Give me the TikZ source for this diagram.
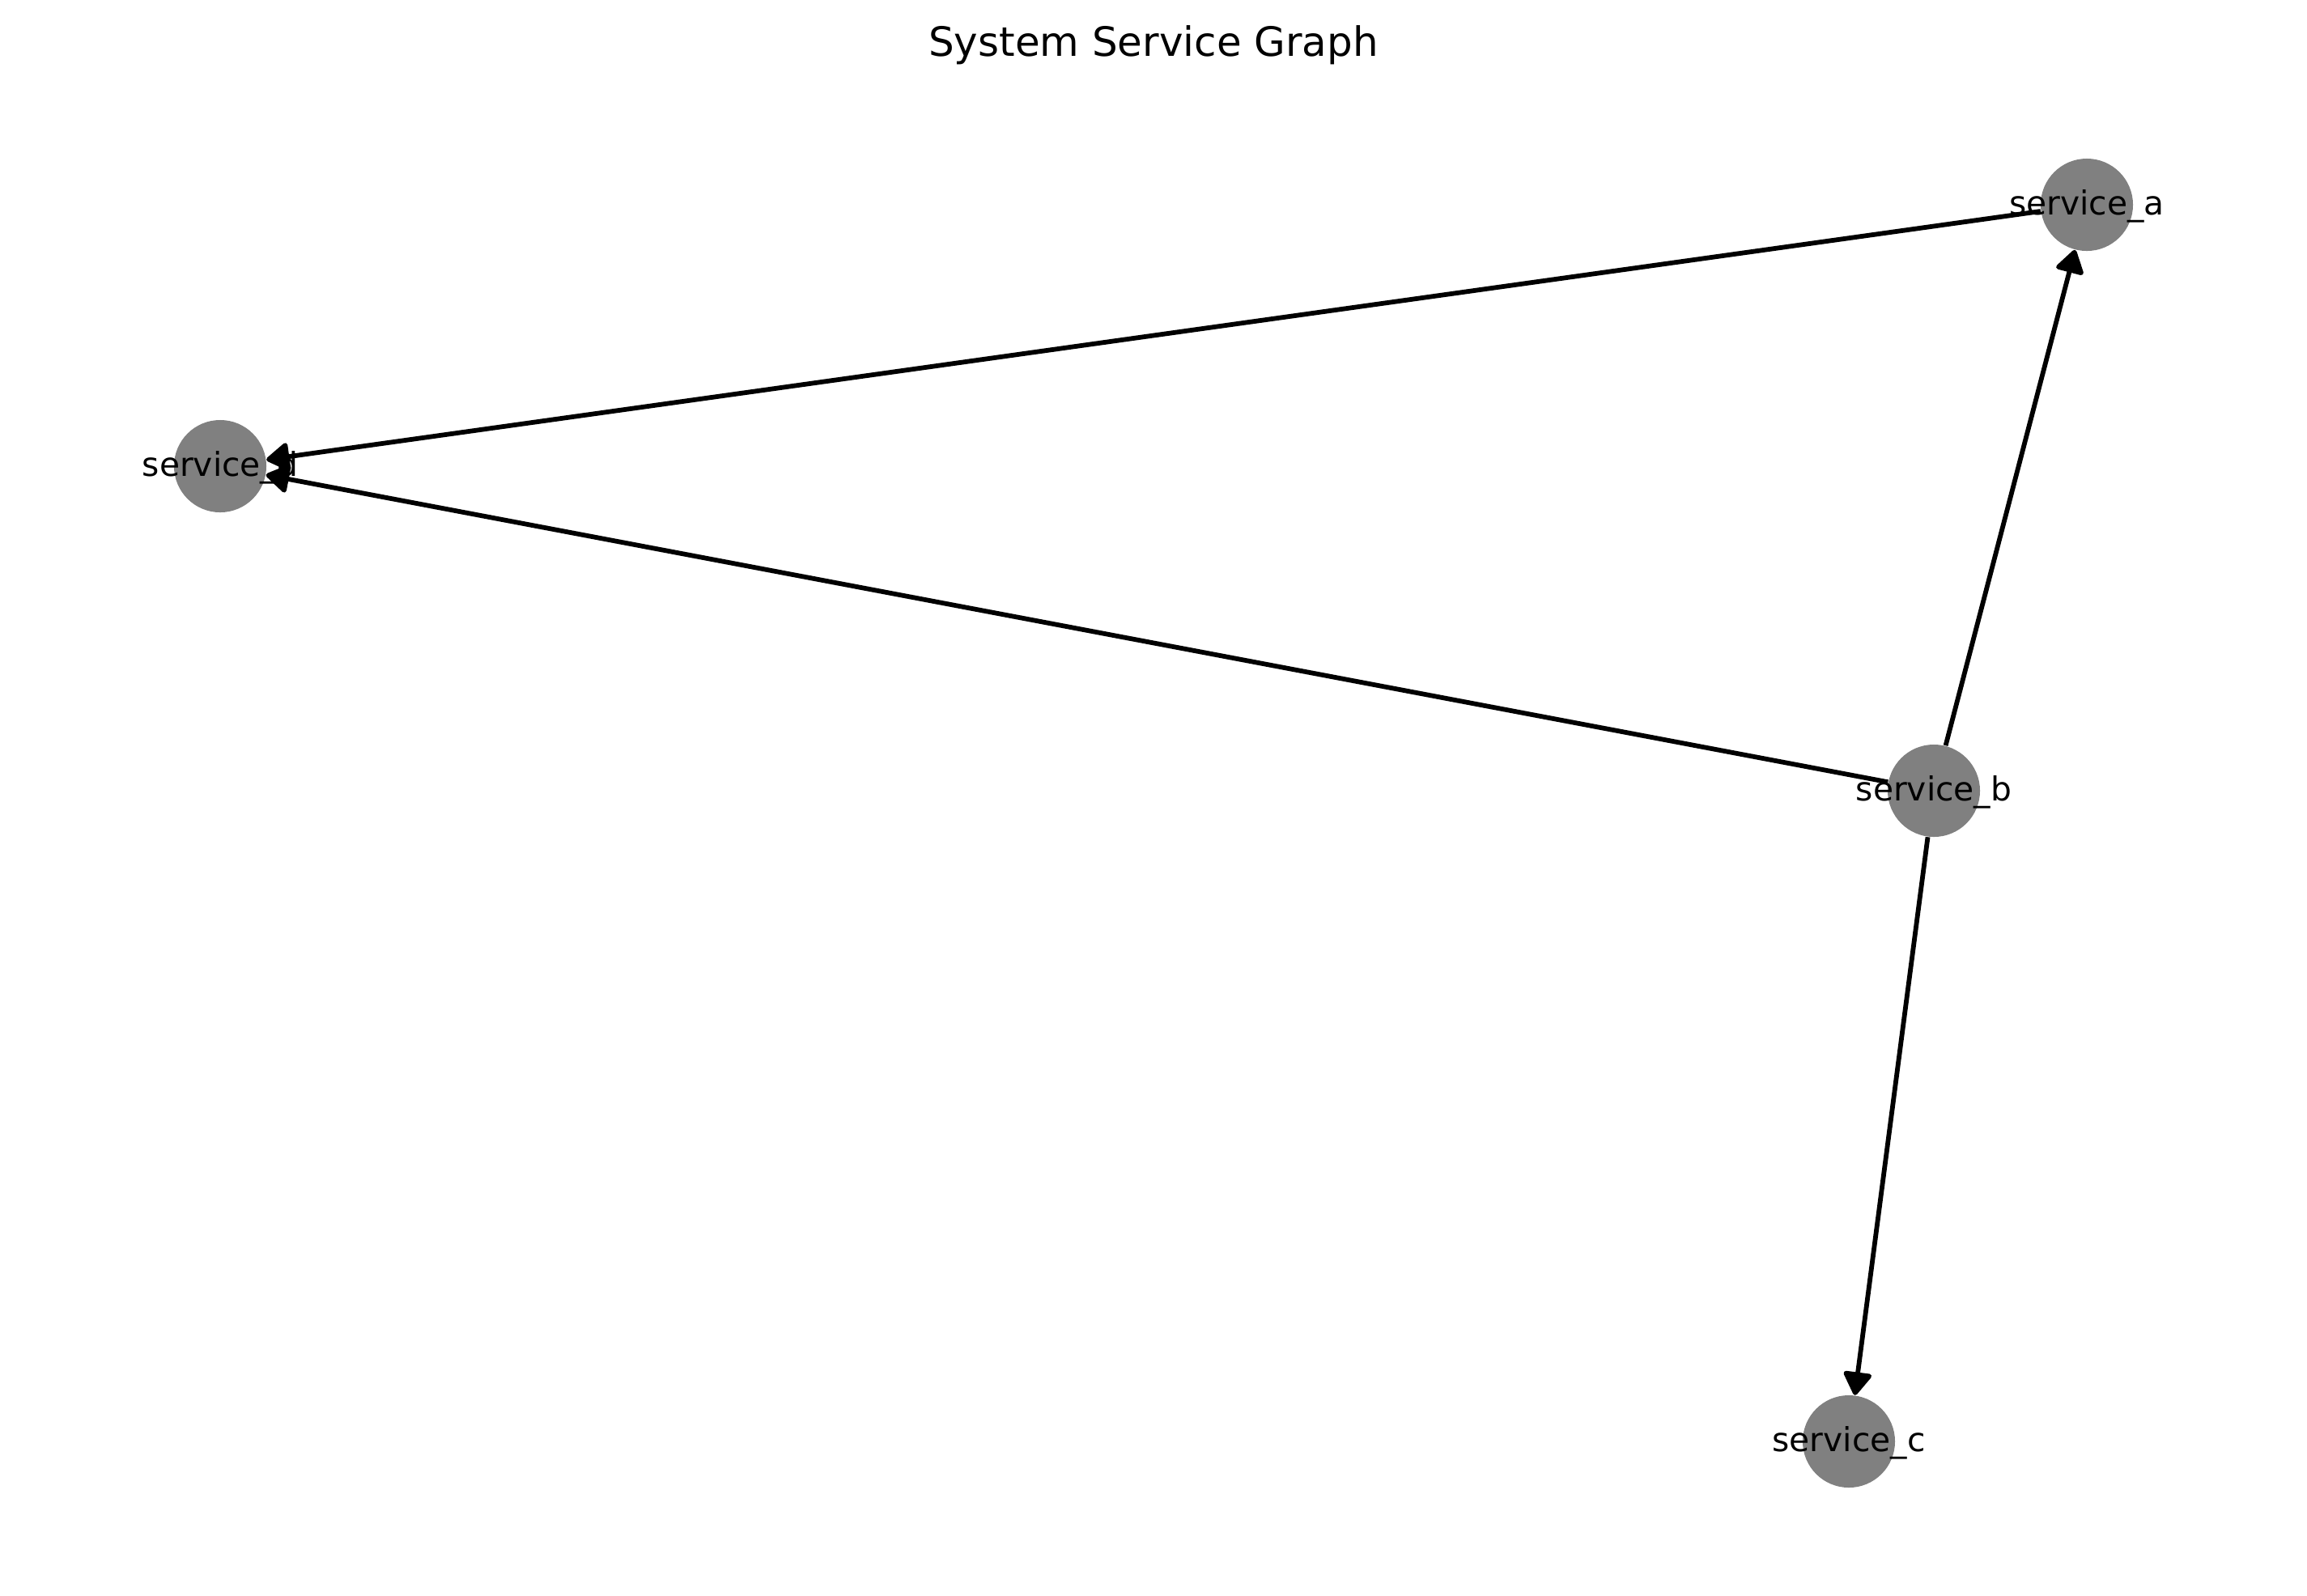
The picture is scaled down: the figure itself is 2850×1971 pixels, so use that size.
\documentclass[tikz,border=0pt]{standalone}
\usepackage{fontspec}
\setmainfont{DejaVu Sans}
\usepackage{tikz}
\usetikzlibrary{arrows.meta}
\definecolor{nodeGray}{RGB}{128,128,128}

\begin{document}
\begin{tikzpicture}[
        x=0.01cm,
        y=-0.01cm,
        serviceS/.style={
            circle,
            fill=nodeGray,
            inner sep=0pt,
            minimum size=1.14cm
        },
        labelS/.style={
            font=\fontsize{11.6pt}{13pt}\selectfont,
            inner sep=0pt,
            text height=0.24cm,
            text depth=0pt
        },
        titleS/.style={
            font=\fontsize{14.2pt}{16pt}\selectfont,
            inner sep=0pt,
            anchor=base
        },
        arrowS/.style={
            line width=0.058cm,
            -{Triangle[length=0.31cm,width=0.38cm,round]}
        },
    ]
    \useasboundingbox (0,0) rectangle (2850,1971);

	\node[titleS] (title) at (1425,69) {System Service Graph};

	\node[serviceS,label={[labelS]center:service\_a}] (SA) at (2578,253) {};
	\node[serviceS,label={[labelS]center:service\_b}] (SB) at (2389,977) {};
	\node[serviceS,label={[labelS]center:service\_c}] (SC) at (2284,1781) {};
	\node[serviceS,label={[labelS]center:service\_d}] (SD) at (272,576) {};

	\draw[arrowS] (SA) -- (SD);
	\draw[arrowS] (SB) -- (SD);
	\draw[arrowS] (SB) -- (SA);
	\draw[arrowS] (SB) -- (SC);

    \end{tikzpicture}
\end{document}
